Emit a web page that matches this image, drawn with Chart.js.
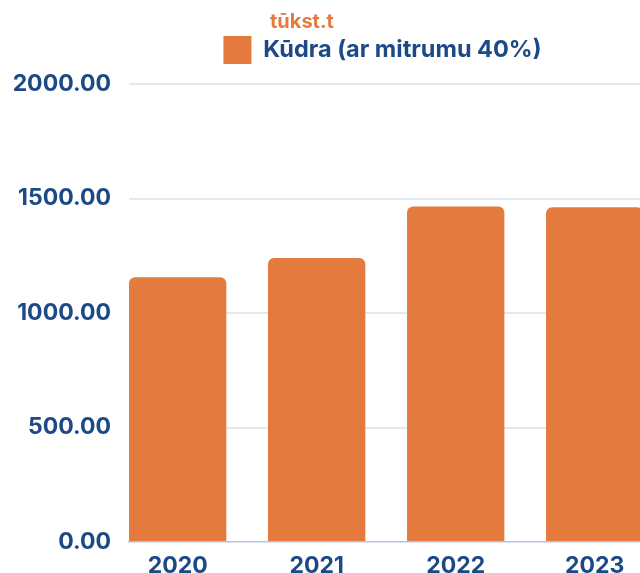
<!DOCTYPE html>
<html>
<head>
<meta charset="utf-8">
<script src="https://cdn.jsdelivr.net/npm/chart.js@4.4.1/dist/chart.umd.min.js"></script>
<style>
  html, body { margin: 0; padding: 0; background: #fff; overflow: hidden; }
  #wrap { position: relative; width: 765px; height: 600px; }
  #unit {
    position: absolute; left: 270px; top: 11px;
    font: 700 20px Inter, sans-serif; line-height: 20px;
    color: #e57a3f;
  }
</style>
</head>
<body>
<div id="wrap">
  <div id="unit">tūkst.t</div>
  <canvas id="chart" width="765" height="600"></canvas>
</div>
<script>
'use strict';

// Data
var years = ['2020', '2021', '2022', '2023'];
var values = [1156, 1240, 1465, 1462];
var seriesLabel = 'Kūdra (ar mitrumu 40%)';
var yTicks = [0, 500, 1000, 1500, 2000];

var ORANGE = '#e57a3f';
var NAVY = '#1c4a87';
var FONT = 'Inter, sans-serif';

// Bars sit on a linear x scale so the first bar can start right at the axis
var points = values.map(function(v, i){
  return { x: i, y: v };
});

// Extra gap below the legend
var legendGap = {
  id: 'legendGap',
  beforeLayout: function(chart){
    var legend = chart.legend;
    if (legend && !legend._gapDone) {
      var fit = legend.fit;
      legend.fit = function(){
        fit.call(this);
        this.height += 10;
      };
      legend._gapDone = true;
    }
  }
};

var config = {
  type: 'bar',
  data: {
    datasets: [{
      label: seriesLabel,
      data: points,
      backgroundColor: ORANGE,
      borderRadius: 6,
      barPercentage: 0.7,
      categoryPercentage: 1
    }]
  },
  options: {
    responsive: false,
    animation: false,
    layout: { padding: { top: 18, right: 0, left: 0, bottom: 0 } },
    plugins: {
      legend: {
        labels: {
          boxWidth: 28,
          boxHeight: 28,
          padding: 18,
          color: NAVY,
          font: { family: FONT, size: 23.5, weight: '700' }
        }
      },
      tooltip: { enabled: false }
    },
    scales: {
      x: {
        type: 'linear',
        min: -0.35,
        max: 4.225,
        offset: false,
        grid: { display: false, drawTicks: false },
        border: { display: true, color: '#b3c5de', width: 1.5 },
        ticks: {
          stepSize: 1,
          includeBounds: false,
          autoSkip: false,
          maxRotation: 0,
          padding: 10,
          color: NAVY,
          font: { family: FONT, size: 23, weight: '700' },
          callback: function(value){
            return years[value] !== undefined ? years[value] : '';
          }
        },
        afterFit: function(scale){ scale.height = 58; }
      },
      y: {
        min: yTicks[0],
        max: yTicks[yTicks.length - 1],
        grid: {
          drawTicks: false,
          lineWidth: 2,
          color: function(ctx){
            return ctx.tick && ctx.tick.value === 0 ? 'rgba(0,0,0,0)' : '#e2e7f0';
          }
        },
        border: { display: false },
        ticks: {
          stepSize: 500,
          padding: 18,
          color: NAVY,
          font: { family: FONT, size: 23, weight: '700' },
          callback: function(value){ return value.toFixed(2); }
        },
        afterFit: function(scale){ scale.width = 129; }
      }
    }
  },
  plugins: [legendGap]
};

var ctx = document.getElementById('chart').getContext('2d');
window.myBar = new Chart(ctx, config);
</script>
</body>
</html>
